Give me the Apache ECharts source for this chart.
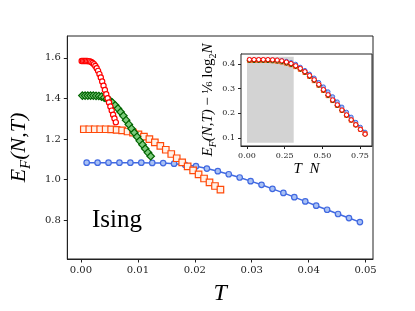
<!DOCTYPE html>
<html>
<head>
<meta charset="utf-8">
<script src="https://cdn.jsdelivr.net/npm/echarts@6/dist/echarts.min.js"></script>
<style>html,body{margin:0;padding:0;background:#fff;}#c{width:415px;height:311px;}</style>
</head>
<body>
<div id="c"></div>
<script>
// System sizes
const sizes = [16, 32, 64, 128];
// Temperatures for each system size
const T_N16 = [0.001, 0.00292, 0.00484, 0.00676, 0.00868, 0.0106, 0.01252, 0.01444, 0.01636, 0.01828, 0.0202, 0.02212, 0.02404, 0.02596, 0.02788, 0.0298, 0.03172, 0.03364, 0.03556, 0.03748, 0.0394, 0.04132, 0.04324, 0.04516, 0.04708, 0.049];
const T_N32 = [0.0005, 0.00146, 0.00242, 0.00338, 0.00434, 0.0053, 0.00626, 0.00722, 0.00818, 0.00914, 0.0101, 0.01106, 0.01202, 0.01298, 0.01394, 0.0149, 0.01586, 0.01682, 0.01778, 0.01874, 0.0197, 0.02066, 0.02162, 0.02258, 0.02354, 0.0245];
const T_N64 = [0.00025, 0.00073, 0.00121, 0.00169, 0.00217, 0.00265, 0.00313, 0.00361, 0.00409, 0.00457, 0.00505, 0.00553, 0.00601, 0.00649, 0.00697, 0.00745, 0.00793, 0.00841, 0.00889, 0.00937, 0.00985, 0.01033, 0.01081, 0.01129, 0.01177, 0.01225];
const T_N128 = [0.000125, 0.000365, 0.000605, 0.000845, 0.001085, 0.001325, 0.001565, 0.001805, 0.002045, 0.002285, 0.002525, 0.002765, 0.003005, 0.003245, 0.003485, 0.003725, 0.003965, 0.004205, 0.004445, 0.004685, 0.004925, 0.005165, 0.005405, 0.005645, 0.005885, 0.006125];
// E_F(N,T) values
const E_N16 = [1.083, 1.083, 1.083, 1.083, 1.083, 1.083, 1.082, 1.081, 1.078, 1.073, 1.066, 1.054, 1.041, 1.026, 1.010, 0.992, 0.974, 0.954, 0.934, 0.913, 0.892, 0.871, 0.851, 0.830, 0.810, 0.790];
const E_N32 = [1.248, 1.248, 1.248, 1.248, 1.248, 1.247, 1.245, 1.242, 1.237, 1.231, 1.223, 1.212, 1.199, 1.183, 1.166, 1.147, 1.126, 1.105, 1.085, 1.065, 1.045, 1.025, 1.005, 0.986, 0.968, 0.950];
const E_N64 = [1.414, 1.414, 1.414, 1.414, 1.414, 1.413, 1.412, 1.409, 1.404, 1.398, 1.390, 1.379, 1.366, 1.350, 1.333, 1.314, 1.293, 1.272, 1.251, 1.231, 1.211, 1.191, 1.172, 1.152, 1.133, 1.115];
const E_N128 = [1.585, 1.585, 1.585, 1.585, 1.585, 1.584, 1.583, 1.580, 1.575, 1.569, 1.560, 1.549, 1.536, 1.520, 1.503, 1.484, 1.463, 1.442, 1.421, 1.401, 1.380, 1.360, 1.340, 1.320, 1.301, 1.282];
// Tick labels
const mainXTicks = [0, 0.01, 0.02, 0.03, 0.04, 0.05];
const mainYTicks = [0.8, 1.0, 1.2, 1.4, 1.6];
const insetXTicks = [0, 0.25, 0.5, 0.75];
const insetYTicks = [0.1, 0.2, 0.3, 0.4];
// Shaded region in inset (T N range, value range)
const shadeX = [0, 0.31];
const shadeY = [0.08, 0.43];
const label = 'Ising';

const Ts = [T_N16, T_N32, T_N64, T_N128];
const Es = [E_N16, E_N32, E_N64, E_N128];

const styles = [
  {symbol: 'circle', size: 5.5, fill: '#a9c1f4', edge: '#4169e1', line: true},
  {symbol: 'rect', size: 6.5, fill: '#fff1e8', edge: '#ff4a0a', line: false},
  {symbol: 'diamond', size: 7.5, fill: '#7ccb7c', edge: '#006400', line: false},
  {symbol: 'circle', size: 5.2, fill: '#ffffff', edge: '#ff0000', line: false}
];
const insetSizes = [4, 4, 4.5, 4.2];

const serif = 'DejaVu Serif';
const ital = {fontFamily: 'Liberation Serif', fontStyle: 'italic'};

function mkAxisCommon(ticks, dec, fs, tl) {
  return {
    axisLine: {show: true, onZero: false, lineStyle: {color: '#222', width: 1}},
    axisTick: {show: true, length: tl, customValues: ticks, lineStyle: {color: '#222', width: 1}},
    axisLabel: {customValues: ticks, formatter: v => Number(v).toFixed(dec), fontFamily: serif, fontSize: fs, color: '#222', margin: tl + 3},
    splitLine: {show: false}
  };
}

const series = [];
sizes.forEach((N, i) => {
  const st = styles[i];
  series.push({
    type: 'line', xAxisIndex: 0, yAxisIndex: 0,
    data: Ts[i].map((t, j) => [t, Es[i][j]]),
    symbol: st.symbol, symbolSize: st.size, showAllSymbol: true,
    lineStyle: st.line ? {color: st.edge, width: 1.5} : {width: 0, opacity: 0},
    itemStyle: {color: st.fill, borderColor: st.edge, borderWidth: 1.2},
    z: 2 + i
  });
});
// shaded region in inset
series.push({
  type: 'custom', xAxisIndex: 1, yAxisIndex: 1, z: 9, silent: true,
  data: [[shadeX[0], shadeY[0], shadeX[1], shadeY[1]]],
  renderItem: function (params, api) {
    const p0 = api.coord([api.value(0), api.value(1)]);
    const p1 = api.coord([api.value(2), api.value(3)]);
    return {type: 'rect', shape: {x: p0[0], y: p1[1], width: p1[0] - p0[0], height: p0[1] - p1[1]},
      style: {fill: '#d3d3d3'}};
  }
});
sizes.forEach((N, i) => {
  const st = styles[i];
  series.push({
    type: 'line', xAxisIndex: 1, yAxisIndex: 1,
    data: Ts[i].map((t, j) => [t * N, Es[i][j] - Math.log2(N) / 6]),
    symbol: st.symbol, symbolSize: insetSizes[i], showAllSymbol: true,
    lineStyle: st.line ? {color: st.edge, width: 1.2} : {width: 0, opacity: 0},
    itemStyle: {color: st.fill, borderColor: st.edge, borderWidth: 1},
    z: 10 + i
  });
});

const option = {
  animation: false,
  backgroundColor: '#fff',
  grid: [
    {left: 52, top: 36, width: 321, height: 235, show: true, borderColor: '#222', borderWidth: 1, backgroundColor: '#fff'},
    {left: 241, top: 54, width: 131, height: 92, show: true, borderColor: '#222', borderWidth: 1, backgroundColor: '#fff', z: 4}
  ],
  xAxis: [
    Object.assign({type: 'value', gridIndex: 0, min: -0.0024, max: 0.0513,
      name: 'T', nameLocation: 'middle', nameGap: 23,
      nameTextStyle: Object.assign({fontSize: 24, color: '#000'}, ital)}, mkAxisCommon(mainXTicks, 2, 10, 3.5)),
    Object.assign({type: 'value', gridIndex: 1, min: -0.04, max: 0.83,
      name: 'T  N', nameLocation: 'middle', nameGap: 16,
      nameTextStyle: Object.assign({fontSize: 15, color: '#000'}, ital)}, mkAxisCommon(insetXTicks, 2, 8, 3))
  ],
  yAxis: [
    Object.assign({type: 'value', gridIndex: 0, min: 0.608, max: 1.708,
      name: '{a|E}{s|F}{a|(N,T)}', nameLocation: 'middle', nameGap: 29, nameRotate: 90,
      nameTextStyle: {rich: {
        a: Object.assign({fontSize: 22, lineHeight: 30, color: '#000'}, ital),
        s: Object.assign({fontSize: 15, lineHeight: 15, verticalAlign: 'bottom', color: '#000'}, ital)
      }}}, mkAxisCommon(mainYTicks, 1, 10, 3.5)),
    Object.assign({type: 'value', gridIndex: 1, min: 0.067, max: 0.441,
      name: '{a|E}{s|F}{a|(N,T)} {r|−} {f|⅙}{r| log}{t|2}{a|N}', nameLocation: 'middle', nameGap: 22, nameRotate: 90,
      nameTextStyle: {rich: {
        a: Object.assign({fontSize: 15, lineHeight: 20, color: '#000'}, ital),
        s: Object.assign({fontSize: 10, lineHeight: 10, verticalAlign: 'bottom', color: '#000'}, ital),
        t: {fontFamily: 'Liberation Serif', fontSize: 10, lineHeight: 10, verticalAlign: 'bottom', color: '#000'},
        r: {fontFamily: 'Liberation Serif', fontSize: 15, lineHeight: 20, color: '#000'},
        f: {fontFamily: 'DejaVu Serif', fontSize: 13, lineHeight: 20, color: '#000'}
      }}}, mkAxisCommon(insetYTicks, 1, 8, 3))
  ],
  graphic: [
    {type: 'text', left: 92, top: 208, z: 100,
      style: {text: label, fontFamily: 'Liberation Serif', fontSize: 25, fill: '#000'}}
  ],
  series: series
};

const chart = echarts.init(document.getElementById('c'), null, {renderer: 'canvas'});
chart.setOption(option);
</script>
</body>
</html>
